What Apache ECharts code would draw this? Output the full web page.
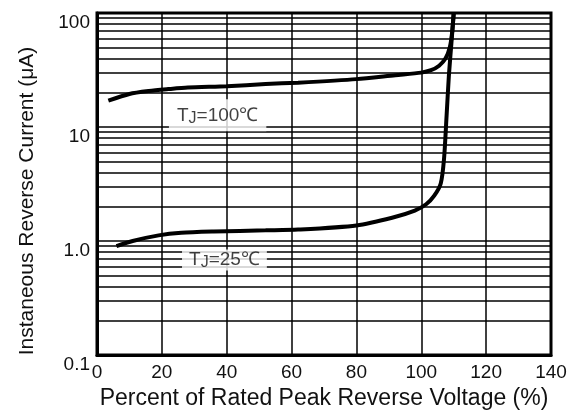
<!DOCTYPE html>
<html>
<head>
<meta charset="utf-8">
<script src="https://cdn.jsdelivr.net/npm/echarts@6/dist/echarts.min.js"></script>
<style>
html,body{margin:0;padding:0;background:#fff;}
#chart{width:579px;height:412px;}
</style>
</head>
<body>
<div id="chart"></div>
<script>
// Data
const xTJ100 = [3.5, 10, 16, 22, 28, 40, 52, 62, 80, 92, 100, 103, 105.5, 107.5, 108.8, 109.5, 110];
const yTJ100 = [17, 19.5, 20.7, 21.5, 22.2, 22.8, 23.8, 24.5, 26.3, 28.5, 30, 31.5, 34.5, 40, 50, 67, 100];
const xTJ25 = [6, 11, 19, 26, 36, 52, 62, 80, 91, 98, 101.5, 104, 106, 107, 107.8, 108.5, 109.3, 110];
const yTJ25 = [0.9, 1.0, 1.12, 1.18, 1.21, 1.24, 1.26, 1.37, 1.6, 1.85, 2.1, 2.5, 3.2, 5.2, 12.5, 28, 55, 100];
const yTickLabels = ['0.1', '1.0', '10', '100'];
const minorGridValues = [0.2,0.3,0.4,0.5,0.6,0.7,0.8,0.9, 2,3,4,5,6,7,8,9, 20,30,40,50,60,70,80,90];
const curveLabels = ['T{j|J}=100℃', 'T{j|J}=25℃'];
const curveLabelPos = [[37.2, 12.7], [39.3, 0.68]];

const font = 'Liberation Sans';
const chart = echarts.init(document.getElementById('chart'));
const zip = (xs, ys) => xs.map((x, i) => [x, ys[i]]);

chart.setOption({
  animation: false,
  backgroundColor: '#fff',
  grid: { left: 97, right: 28, top: 13, bottom: 57, show: true, borderColor: '#000', borderWidth: 3,
          containLabel: false, outerBoundsMode: 'none' },
  xAxis: {
    type: 'value', min: 0, max: 140, interval: 20,
    name: 'Percent of Rated Peak Reverse Voltage (%)',
    nameLocation: 'middle', nameGap: 32,
    nameTextStyle: { fontFamily: font, fontSize: 23, color: '#111' },
    axisLine: { lineStyle: { color: '#000', width: 3 } },
    axisTick: { show: false },
    axisLabel: { fontFamily: font, fontSize: 19, color: '#111', margin: 8 },
    splitLine: { show: true, lineStyle: { color: '#000', width: 1.5 } }
  },
  yAxis: {
    type: 'log', logBase: 10, min: 0.1, max: 100,
    name: 'Instaneous Reverse Current (μA)',
    nameLocation: 'middle', nameGap: 59,
    nameTextStyle: { fontFamily: font, fontSize: 21, color: '#111', padding: [0, 34, 0, 0] },
    axisLine: { lineStyle: { color: '#000', width: 3 } },
    axisTick: { show: false },
    axisLabel: {
      fontFamily: font, fontSize: 19, color: '#111', margin: 7,
      verticalAlign: 'top',
      formatter: v => yTickLabels[Math.round(Math.log10(v)) + 1]
    },
    splitLine: { show: true, lineStyle: { color: '#000', width: 1.5 } }
  },
  series: [
    {
      type: 'line', data: zip(xTJ100, yTJ100), showSymbol: false, symbol: 'none',
      smooth: 0.25, lineStyle: { color: '#000', width: 4 }, z: 3,
      markLine: {
        silent: true, symbol: 'none', label: { show: false },
        lineStyle: { color: '#000', width: 1.5, type: 'solid' },
        data: minorGridValues.map(v => ({ yAxis: v }))
      }
    },
    {
      type: 'line', data: zip(xTJ25, yTJ25), showSymbol: false, symbol: 'none',
      smooth: 0.25, lineStyle: { color: '#000', width: 4 }, z: 3
    },
    {
      type: 'scatter', symbolSize: 0, z: 10, silent: true,
      data: [
        { value: curveLabelPos[0], name: curveLabels[0], label: { padding: [6, 8, 5, 8] } },
        { value: curveLabelPos[1], name: curveLabels[1], label: { padding: [0, 7, 0, 7] } }
      ],
      label: {
        show: true, position: 'inside',
        formatter: p => p.name,
        backgroundColor: '#fff',
        fontFamily: font, fontSize: 19, color: '#111',
        rich: { j: { fontFamily: font, fontSize: 16, color: '#111', padding: [5, 0, 0, 0] } }
      }
    }
  ]
});
</script>
</body>
</html>
